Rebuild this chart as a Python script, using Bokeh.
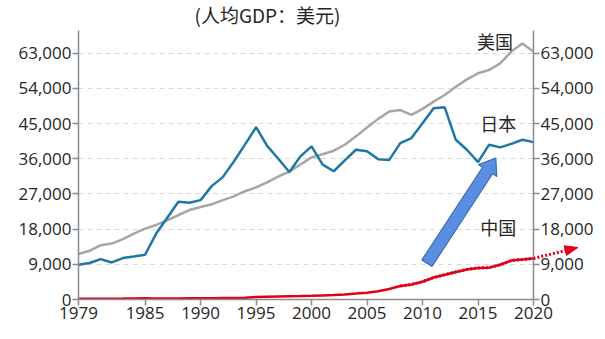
import numpy as np
from bokeh.plotting import figure
from bokeh.models import Range1d, LinearAxis, FixedTicker, NumeralTickFormatter, Label
from bokeh.embed import file_html
from bokeh.resources import INLINE

years = list(range(1979, 2021))
usa = [11620, 12460, 13900, 14310, 15420, 16850, 18130, 19070, 20260, 21610,
       22880, 23640, 24342, 25419, 26387, 27695, 28691, 29968, 31459, 32700,
       34515, 36360, 37134, 38060, 39580, 41725, 44000, 46200, 48100, 48450,
       47200, 48750, 50600, 52300, 54400, 56300, 57850, 58700, 60400, 63400,
       65500, 63400]
japan = [8900, 9330, 10340, 9480, 10600, 11000, 11440, 16860, 20930, 24990,
         24740, 25420, 29000, 31300, 35300, 39600, 44060, 39300, 36000, 32600,
         36600, 39150, 34500, 32800, 35600, 38300, 37900, 35900, 35700, 40000,
         41300, 45100, 48900, 49150, 40850, 38300, 35150, 39600, 38900, 39800,
         40850, 40250]
china = [183, 195, 197, 203, 225, 251, 294, 282, 252, 284,
         311, 318, 333, 366, 377, 473, 610, 709, 782, 829,
         873, 959, 1053, 1149, 1289, 1509, 1753, 2099, 2694, 3468,
         3832, 4550, 5618, 6317, 7051, 7679, 8067, 8148, 8879, 9977,
         10217, 10500]
y_ticks = [0, 9000, 18000, 27000, 36000, 45000, 54000, 63000]
x_ticks = [1979, 1985, 1990, 1995, 2000, 2005, 2010, 2015, 2020]
trend_start = 2008
trend_end = (2024, 13300)
title_text = "(人均GDP：美元)"
names = ["美国", "日本", "中国"]

FONT = "Noto Sans CJK SC"
TICK_FONT = "Open Sans"
W, H = 605, 339
ML, MR, MT, MB = 78, 72, 29, 40
FW, FH = W - ML - MR, H - MT - MB
X0, X1, Y0, Y1 = 1979, 2020, 0, 68800
RED = "#e0001a"

p = figure(width=W, height=H, output_backend="svg", toolbar_location=None,
           x_range=Range1d(X0, X1), y_range=Range1d(Y0, Y1),
           min_border_left=ML, min_border_right=MR, min_border_top=MT, min_border_bottom=MB)
p.outline_line_color = None
p.xgrid.visible = False
p.ygrid.grid_line_color = "#d9d9d9"
p.ygrid.grid_line_dash = "5 4"
p.ygrid.ticker = FixedTicker(ticks=y_ticks)

p.title.text = title_text
p.title.align = "left"
p.title.offset = 194 - ML
p.title.text_font = FONT
p.title.text_font_size = "19px"
p.title.text_font_style = "normal"
p.title.text_color = "#262626"
p.title.standoff = 1
p.title.vertical_align = "top"

def style(ax):
    ax.axis_line_color = "#8c8c8c"
    ax.axis_line_width = 1.5
    ax.major_tick_line_color = "#8c8c8c"
    ax.major_tick_line_width = 1.5
    ax.major_tick_out = 6
    ax.major_tick_in = 0
    ax.minor_tick_line_color = None
    ax.major_label_text_font = TICK_FONT
    ax.major_label_text_font_size = "17px"
    ax.major_label_text_color = "#262626"
    ax.major_label_standoff = 1

p.xaxis.ticker = FixedTicker(ticks=x_ticks)
p.yaxis.ticker = FixedTicker(ticks=y_ticks)
p.yaxis.formatter = NumeralTickFormatter(format="0,0")
style(p.xaxis[0]); style(p.yaxis[0])
ra = LinearAxis(ticker=FixedTicker(ticks=y_ticks), formatter=NumeralTickFormatter(format="0,0"))
style(ra)
p.add_layout(ra, "right")

p.line(years, usa, line_color="#a6a6a6", line_width=2.5)
p.line(years, japan, line_color="#1f77a6", line_width=2.5)
p.line(years, china, line_color=RED, line_width=2.5)
i0 = years.index(trend_start)
p.line(years[i0:], china[i0:], line_color=RED, line_width=3, line_dash="2 2")

def to_px(x, y):
    return ML + (x - X0) / (X1 - X0) * FW, (y - Y0) / (Y1 - Y0) * FH
def to_data(px, py):
    return X0 + (px - ML) / FW * (X1 - X0), Y0 + py / FH * (Y1 - Y0)

# dotted trend extension beyond 2020 (drawn outside the frame)
ts = np.array(to_px(years[-1], china[-1])); te = np.array(to_px(*trend_end))
td = (te - ts) / np.linalg.norm(te - ts); tn = np.array([-td[1], td[0]])
shaft_end = to_data(*(te - td * 10))
p.line([years[-1], shaft_end[0]], [china[-1], shaft_end[1]], line_color=RED,
       line_width=3, line_dash="2 2", level="overlay")
tb = te - td * 13
tri = [to_data(*pt) for pt in (te, tb + tn * 5, tb - tn * 5)]
p.patch([q[0] for q in tri], [q[1] for q in tri], fill_color=RED, line_color=RED,
        line_width=1, level="overlay")

# blue block arrow (computed in pixel space)
s = np.array(to_px(2010.4, 9300)); e = np.array(to_px(2016.6, 36200))
d = (e - s) / np.linalg.norm(e - s); n = np.array([-d[1], d[0]])
hw, hh, hl = 6, 11, 15
b = e - d * hl
pts = [s + n*hw, b + n*hw, b + n*hh, e, b - n*hh, b - n*hw, s - n*hw]
dpts = [to_data(*pt) for pt in pts]
p.patch([q[0] for q in dpts], [q[1] for q in dpts], fill_color="#5a8ee0",
        line_color="#3d6bb5", line_width=1.2)

lbl_pos = [(2014.9, 66200), (2015.2, 45100), (2015.2, 18600)]
for t, (x, y) in zip(names, lbl_pos):
    p.add_layout(Label(x=x, y=y, text=t, text_font=FONT, text_font_size="18px",
                       text_color="#262626", text_align="left", text_baseline="middle"))

open("out.html", "w").write(file_html(p, INLINE))
